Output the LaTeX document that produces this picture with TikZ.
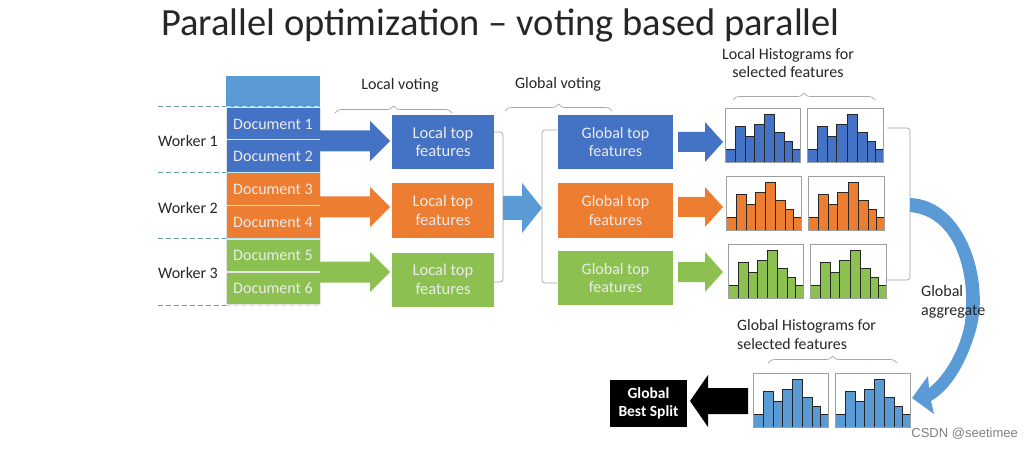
\documentclass[tikz,border=0pt]{standalone}
\usepackage{fontspec}
\setmainfont{Carlito}
\newfontfamily\wmfont{Liberation Sans}
\usetikzlibrary{decorations.pathreplacing}
\definecolor{dblue}{HTML}{4472C4}
\definecolor{lblue}{HTML}{5B9BD5}
\definecolor{orng}{HTML}{ED7D31}
\definecolor{grn}{HTML}{8CC152}
\definecolor{dashc}{HTML}{6A9C9A}
\definecolor{brc}{HTML}{A6A6A6}
\definecolor{txt}{HTML}{262626}
\newcommand\blockarr[7]{%
 \fill[#7] (#1,#4-#5) -- (#2,#4-#5) -- (#2,#4-#6) -- (#3,#4) -- (#2,#4+#6) -- (#2,#4+#5) -- (#1,#4+#5) -- cycle;}
\newcommand\histo[5]{%
 \foreach \ha/\hb/\hf in {0/.135/.23, .135/.27/.66, .27/.39/.48, .39/.525/.70, .525/.66/.89, .66/.79/.54, .79/.90/.375, .90/1/.23}
  {\filldraw[fill=#5, draw=black!85, line width=0.7] ({#1+\ha*#3},{#2+#4}) rectangle ({#1+\hb*#3},{#2+#4-\hf*#4});}
 \draw[gray!75, line width=0.8] (#1,#2) rectangle ({#1+#3},{#2+#4});}
\tikzset{
 lbl/.style={text=txt, font=\fontsize{16}{19}\selectfont, align=center, inner sep=0},
 lbll/.style={text=txt, font=\fontsize{16}{19.5}\selectfont, align=left, inner sep=0, anchor=west},
 docbox/.style={minimum width=94pt, minimum height=32.5pt, inner sep=0, text=white!92!black, font=\fontsize{16}{18}\selectfont, draw=white!80!gray, line width=0.5},
 tbox/.style={minimum width=102pt, minimum height=54pt, inner sep=0, text=white!92!black, font=\fontsize{16.5}{18.5}\selectfont, align=center},
 gbox/.style={tbox, minimum width=115pt, font=\fontsize{16}{18.5}\selectfont},
 brc/.style={draw=brc, line width=0.7, decorate, decoration={brace, amplitude=7pt}},
 brk/.style={draw=brc, line width=0.7, rounded corners=3pt},
 dsh/.style={dashc, dashed, dash pattern=on 5pt off 3pt, line width=1}
}
\begin{document}
\begin{tikzpicture}[x=1pt,y=-1pt]
\useasboundingbox (0,0) rectangle (1033,449);
\fill[white] (0,0) rectangle (1033,449);
% title
\node[text=txt, font=\fontsize{38.5}{42}\selectfont, inner sep=0, anchor=west] (title) at (161,25) {Parallel optimization -- voting based parallel};
% document column
\fill[lblue] (226,76) rectangle (320,107);
\node[docbox, fill=dblue] (d1) at (273,124) {Document 1};
\node[docbox, fill=dblue] (d2) at (273,156) {Document 2};
\node[docbox, fill=orng] (d3) at (273,189) {Document 3};
\node[docbox, fill=orng] (d4) at (273,222) {Document 4};
\node[docbox, fill=grn] (d5) at (273,255) {Document 5};
\node[docbox, fill=grn] (d6) at (273,288) {Document 6};
\foreach \yy in {107,172.5,238.5,305}{
 \draw[dsh] (158,\yy) -- (226,\yy);
 \draw[dsh, draw=white!70!cyan] (226,\yy) -- (320,\yy);}
\node[lbl] (w1) at (188,141) {Worker 1};
\node[lbl] (w2) at (188,208) {Worker 2};
\node[lbl] (w3) at (188,273) {Worker 3};
% local arrows
\blockarr{320}{370}{390}{141}{10.5}{20}{dblue}
\blockarr{320}{370}{390}{207}{10.5}{20}{orng}
\blockarr{320}{370}{390}{272}{10.5}{20}{grn}
% local top boxes
\node[tbox, fill=dblue] (l1) at (443,142) {Local top\\features};
\node[tbox, fill=orng] (l2) at (443,210.5) {Local top\\features};
\node[tbox, fill=grn] (l3) at (443,279.5) {Local top\\features};
\node[lbl] (lv) at (400,85) {Local voting};
\draw[brc] (335,113) -- (452,113);
\draw[brk] (494,132) -- (503,132) -- (503,282) -- (494,282);
% middle arrow
\blockarr{503}{522}{542}{208}{12}{25}{lblue}
\draw[brk] (557,130) -- (542,130) -- (542,283) -- (557,283);
% global boxes
\node[gbox, fill=dblue] (g1) at (615.5,142) {Global top\\features};
\node[gbox, fill=orng] (g2) at (615.5,210.5) {Global top\\features};
\node[gbox, fill=grn] (g3) at (615.5,278) {Global top\\features};
\node[lbl] (gv) at (558,84) {Global voting};
\draw[brc] (505,111) -- (612,111);
% arrows to histograms
\blockarr{678}{705}{723}{142}{10}{20}{dblue}
\blockarr{678}{705}{723}{207}{10}{20}{orng}
\blockarr{678}{705}{723}{272}{10}{20}{grn}
% local histograms
\histo{725}{108}{75}{54}{dblue}
\histo{807}{108}{76}{54}{dblue}
\histo{726}{176}{75}{54}{orng}
\histo{808}{176}{76}{54}{orng}
\histo{728}{244}{75}{54}{grn}
\histo{810}{244}{76}{54}{grn}
\node[lbl, font=\fontsize{16}{18}\selectfont] (lh) at (788,63.5) {Local Histograms for\\selected features};
\draw[brc] (733,100) -- (875,100);
\draw[brk] (887,128) -- (910,128) -- (910,280) -- (887,280);
% curved arrow
\fill[lblue] (910,198) .. controls (965,200) and (990,280) .. (976,330) .. controls (966,365) and (950,390) .. (931,401) -- (934,414) -- (912,398) -- (928,376) -- (929,388) .. controls (945,376) and (961,348) .. (965,322) .. controls (971,272) and (955,216) .. (910,212) -- cycle;
\node[lbll] (ga) at (921,302) {Global\\aggregate};
% global histograms
\node[lbll, font=\fontsize{15.8}{19}\selectfont] (gh) at (737,334.5) {Global Histograms for\\selected features};
\draw[brc] (768,363) -- (897,363);
\histo{753}{373}{75}{54}{lblue}
\histo{835}{373}{75}{54}{lblue}
% black arrow and best split
\fill[black] (748,388) -- (708,388) -- (708,375) -- (690,401) -- (708,427) -- (708,414) -- (748,414) -- cycle;
\node[fill=black, minimum width=77pt, minimum height=47pt, inner sep=0, text=white, font=\bfseries\fontsize{15.5}{18}\selectfont, align=center] (bs) at (648.5,403.5) {Global\\Best Split};
\node[text=gray, font=\wmfont\fontsize{13}{15}\selectfont, inner sep=0, anchor=east] (wm) at (1018,434) {CSDN @seetimee};
\end{tikzpicture}
\end{document}
